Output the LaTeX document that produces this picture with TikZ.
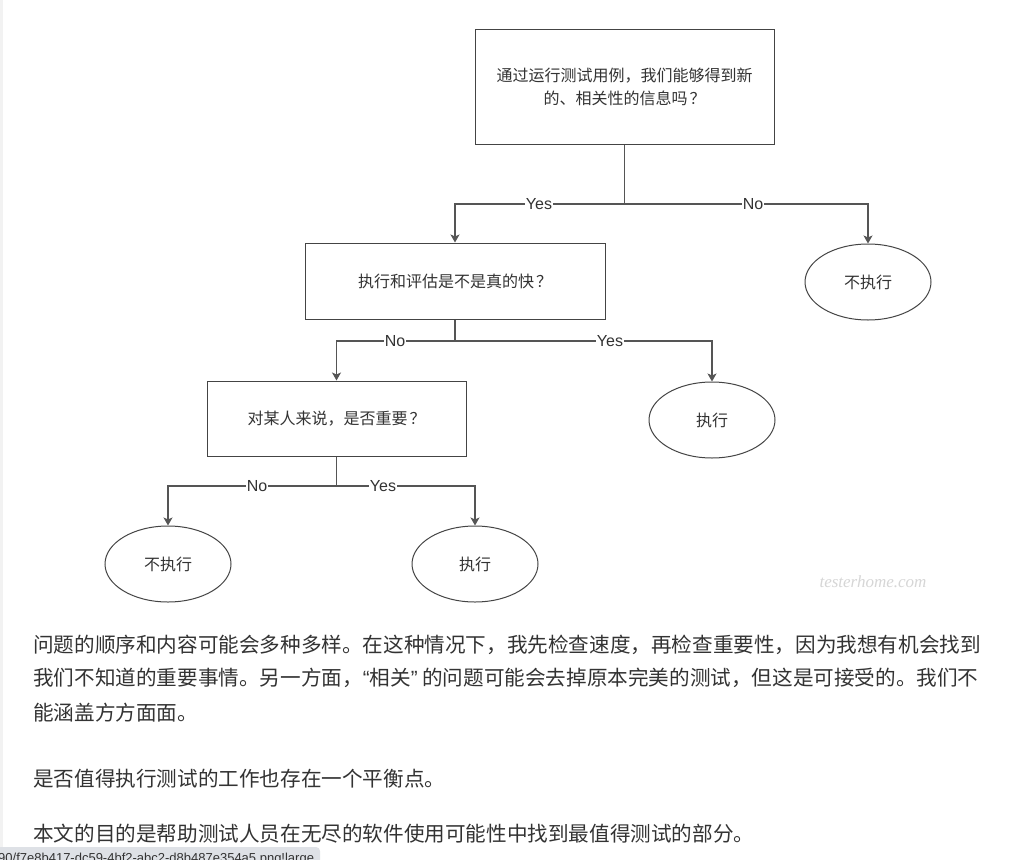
\documentclass[tikz,border=0pt]{standalone}
\usepackage{fontspec}
\setmainfont{Liberation Sans}
\newfontfamily\cjk{Noto Sans CJK SC}
\newfontfamily\wmfont{Liberation Serif}
\usetikzlibrary{shapes.geometric,arrows.meta}
\definecolor{linec}{HTML}{555555}
\definecolor{boxc}{HTML}{444444}
\definecolor{txtc}{HTML}{333333}
\definecolor{barc}{HTML}{DEE1E6}
\definecolor{stripc}{HTML}{F2F2F2}
\definecolor{wmc}{HTML}{D6D6D6}
\newcommand{\fq}{\hspace{2pt}？}
\begin{document}
\begin{tikzpicture}[x=1pt,y=-1pt,
  qbox/.style={draw=boxc, line width=1pt, fill=white, inner sep=0pt,
    font=\cjk\fontsize{16}{23}\selectfont, text=txtc, align=center},
  term/.style={ellipse, draw=boxc, line width=1pt, inner sep=0pt,
    minimum width=126pt, minimum height=76pt,
    font=\cjk\fontsize{16}{19}\selectfont, text=txtc},
  conn/.style={draw=linec, line width=1.1pt},
  arr/.style={conn, -{Stealth[length=8pt,width=9pt,inset=2pt]}},
  lab/.style={fill=white, inner sep=1pt, font=\fontsize{16}{18}\selectfont, text=txtc},
  para/.style={anchor=west, inner sep=0pt, font=\cjk\fontsize{20.6}{24}\selectfont, text=txtc}]

\useasboundingbox (0,0) rectangle (1019,859);
\fill[white] (0,0) rectangle (1019,859);
\fill[stripc] (0,0) rectangle (3,847);

% question boxes
\node[qbox, minimum width=299pt, minimum height=114pt] (q1) at (624.5,87)
  {通过运行测试用例，我们能够得到新\\的、相关性的信息吗\fq};
\node[qbox, minimum width=300pt, minimum height=76pt] (q2) at (455,281)
  {执行和评估是不是真的快\fq};
\node[qbox, minimum width=259pt, minimum height=75pt] (q3) at (336.5,418.5)
  {对某人来说，是否重要\fq};

% terminals
\node[term] (e1) at (868,282) {不执行};
\node[term] (e2) at (712,420) {执行};
\node[term] (e3) at (168,564) {不执行};
\node[term] (e4) at (475,564) {执行};

% level 1
\coordinate (j1) at (624.5,204);
\draw[conn] (q1.south) -- (j1);
\draw[arr] (j1) -| (q2.north);
\draw[arr] (j1) -| (e1.north);
\node[lab] (l1y) at (539,204) {Yes};
\node[lab] (l1n) at (753,204) {No};

% level 2
\coordinate (j2) at (455,341);
\draw[conn] (q2.south) -- (j2);
\draw[arr] (j2) -| (q3.north);
\draw[arr] (j2) -| (e2.north);
\node[lab] (l2n) at (395,341) {No};
\node[lab] (l2y) at (610,341) {Yes};

% level 3
\coordinate (j3) at (336.5,486);
\draw[conn] (q3.south) -- (j3);
\draw[arr] (j3) -| (e3.north);
\draw[arr] (j3) -| (e4.north);
\node[lab] (l3n) at (257,486) {No};
\node[lab] (l3y) at (383,486) {Yes};

% watermark
\node[font=\wmfont\itshape\fontsize{17}{17}\selectfont, text=wmc] (wm) at (873,582) {testerhome.com};

% paragraphs
\node[para] (p1) at (33,645) {问题的顺序和内容可能会多种多样。在这种情况下，我先检查速度，再检查重要性，因为我想有机会找到};
\node[para] (p2) at (33,678) {我们不知道的重要事情。另一方面，{\rmfamily “}相关{\rmfamily ”} 的问题可能会去掉原本完美的测试，但这是可接受的。我们不};
\node[para] (p3) at (33,713) {能涵盖方方面面。};
\node[para] (p4) at (33,779) {是否值得执行测试的工作也存在一个平衡点。};
\node[para] (p5) at (33,834) {本文的目的是帮助测试人员在无尽的软件使用可能性中找到最值得测试的部分。};

% status bar
\begin{scope}
\clip (0,0) rectangle (1019,859);
\fill[barc, rounded corners=4pt] (-5,847) -- (320,847) -- (320,875) -- (-5,875) -- cycle;
\node[anchor=base west, inner sep=0pt, font=\fontsize{13}{13}\selectfont, text=txtc] (sb) at (-2,862)
  {90/f7e8b417-dc59-4bf2-abc2-d8b487e354a5.png!large};
\end{scope}
\end{tikzpicture}
\end{document}
